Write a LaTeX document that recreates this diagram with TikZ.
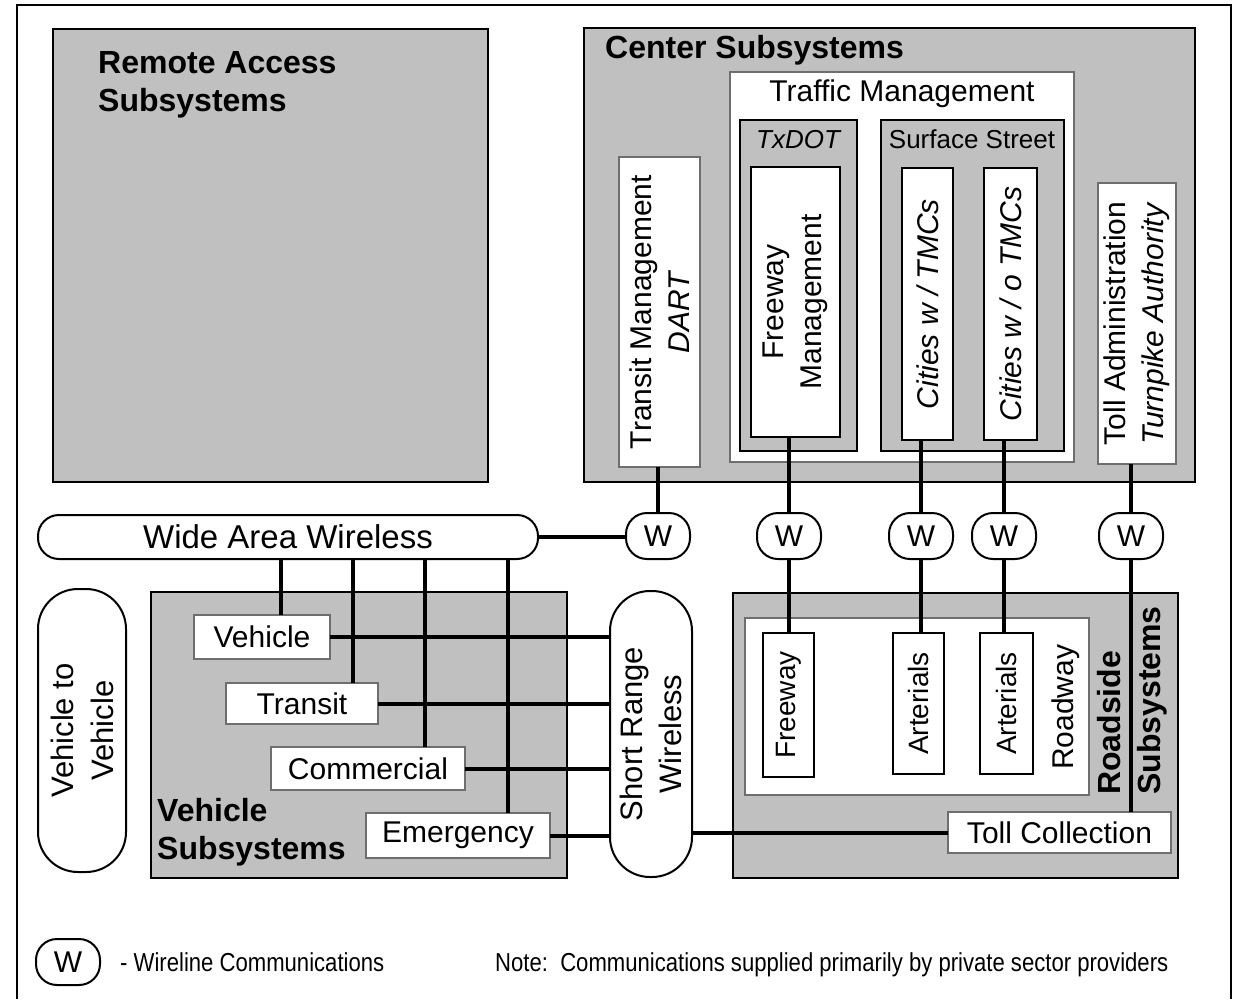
\documentclass[tikz,border=0pt]{standalone}
\usepackage{fontspec}
\setmainfont{Liberation Sans}
\newfontfamily\narrowsans{Liberation Sans}[FakeStretch=0.85]
\usetikzlibrary{fit}
\definecolor{gfill}{RGB}{192,192,192}
\definecolor{wborder}{RGB}{110,110,110}
\begin{document}
\begin{tikzpicture}[x=1pt,y=-1pt,
  gbox/.style={draw=black, fill=gfill, line width=2.5pt, inner sep=0pt, outer sep=0pt},
  wbox/.style={draw=wborder, fill=white, line width=1.3pt, inner sep=0pt, outer sep=0pt},
  bbox/.style={draw=black, fill=white, line width=2.5pt, inner sep=0pt, outer sep=0pt},
  pill/.style={draw=black, fill=white, line width=2pt, rounded corners=21pt, inner sep=0pt, outer sep=0pt},
  tallpill/.style={pill, rounded corners=40pt},
  wnode/.style={pill, minimum width=64pt, minimum height=46pt, font=\fontsize{30}{34}\selectfont},
  conn/.style={line width=4pt},
  txt/.style={inner sep=0pt, font=\fontsize{30}{38}\selectfont},
  txtsm/.style={inner sep=0pt, font=\fontsize{28}{34}\selectfont},
  title/.style={inner sep=0pt, font=\fontsize{32}{38}\selectfont\bfseries},
  sub/.style={inner sep=0pt, font=\fontsize{26}{30}\selectfont},
  legend/.style={inner sep=0pt, font=\narrowsans\fontsize{26}{30}\selectfont}
]
\useasboundingbox (0,0) rectangle (1236,999);
\fill[white] (0,0) rectangle (1236,999);
% outer frame
\draw[line width=2pt] (17,999) -- (17,5) -- (1231,5) -- (1231,999);

% Remote access
\node[gbox, fit={(53,29)(488,482)}] (ra) {};
\node[title, anchor=north west, align=left] (ratxt) at (98,51) {Remote Access\\Subsystems};

% Center subsystems
\node[gbox, fit={(584,28)(1195,482)}] (cs) {};
\node[title, anchor=base west] (cstxt) at (605,58) {Center Subsystems};
\node[wbox, fit={(730,72)(1074,462)}] (tmg) {};
\node[txt, anchor=base] (tmgtxt) at (902,101) {Traffic Management};
\node[gbox, fit={(740,120)(857,451)}] (txd) {};
\node[sub, anchor=base, font=\fontsize{26}{30}\selectfont\itshape] (txdtxt) at (798,148) {TxDOT};
\node[bbox, fit={(751,167)(840,437)}] (fm) {};
\node[txt, rotate=90, align=center] (fmtxt) at (fm.center) {Freeway\\Management};
\node[gbox, fit={(881,120)(1064,451)}] (ss) {};
\node[sub, anchor=base] (sstxt) at (972,148) {Surface Street};
\node[bbox, fit={(902,168)(953,440)}] (cw) {};
\node[txt, rotate=90, font=\fontsize{30}{38}\selectfont\itshape] (cwtxt) at (cw.center) {Cities w / TMCs};
\node[bbox, fit={(984,168)(1037,440)}] (cwo) {};
\node[txt, rotate=90, font=\fontsize{30}{38}\selectfont\itshape] (cwotxt) at (cwo.center) {Cities w / o TMCs};
\node[wbox, fit={(619,157)(700,467)}] (tm) {};
\node[txt, rotate=90, align=center] (tmtxt) at (tm.center) {Transit Management\\\textit{DART}};
\node[wbox, fit={(1098,183)(1176,464)}] (ta) {};
\node[txt, rotate=90, align=center] (tatxt) at (ta.center) {Toll Administration\\\textit{Turnpike Authority}};

% W nodes
\node[wnode] (w1) at (658,536) {W};
\node[wnode] (w2) at (789,536) {W};
\node[wnode] (w3) at (921,536) {W};
\node[wnode] (w4) at (1004,536) {W};
\node[wnode] (w5) at (1131,536) {W};

% Wide area wireless
\node[pill, fit={(38,515)(538,559)}] (waw) {};
\node[inner sep=0pt, font=\fontsize{33}{38}\selectfont] (wawtxt) at (waw.center) {Wide Area Wireless};

% Vehicle to vehicle
\node[tallpill, fit={(38,589)(126,872)}] (v2v) {};
\node[txt, rotate=90, align=center, font=\fontsize{31}{40}\selectfont] (v2vtxt) at (v2v.center) {Vehicle to\\Vehicle};

% Vehicle subsystems
\node[gbox, fit={(151,592)(567,878)}] (vs) {};
\node[title, anchor=north west, align=left] (vstxt) at (157,798) {Vehicle\\Subsystems};
\node[wbox, fit={(194,615)(330,659)}] (vb) {};
\node[txt] (vbtxt) at (vb.center) {Vehicle};
\node[wbox, fit={(226,683)(378,724)}] (trn) {};
\node[txt] (trntxt) at (trn.center) {Transit};
\node[wbox, fit={(271,747)(465,790)}] (cm) {};
\node[txt] (cmtxt) at (cm.center) {Commercial};
\node[wbox, fit={(366,813)(550,858)}] (em) {};
\node[txt] (emtxt) at (em.center) {Emergency};

% Short range wireless
\node[tallpill, fit={(610,591)(692,877)}] (srw) {};
\node[txt, rotate=90, align=center, font=\fontsize{31}{39}\selectfont] (srwtxt) at (srw.center) {Short Range\\Wireless};

% Roadside subsystems
\node[gbox, fit={(733,593)(1178,878)}] (rs) {};
\node[wbox, fit={(745,618)(1089,795)}] (rw) {};
\node[txt, rotate=90, anchor=base west] (rwtxt) at (1073,770) {Roadway};
\node[bbox, line width=2pt, fit={(763,633)(814,777)}] (fw) {};
\node[txtsm, rotate=90] (fwtxt) at (fw.center) {Freeway};
\node[bbox, line width=2pt, fit={(893,633)(944,774)}] (ar1) {};
\node[txtsm, rotate=90] (ar1txt) at (ar1.center) {Arterials};
\node[bbox, line width=2pt, fit={(980,633)(1033,774)}] (ar2) {};
\node[txtsm, rotate=90] (ar2txt) at (ar2.center) {Arterials};
\node[title, rotate=90, anchor=base west] (rstxt1) at (1120,795) {Roadside};
\node[title, rotate=90, anchor=base west] (rstxt2) at (1160,795) {Subsystems};
\node[wbox, fit={(948,812)(1171,853)}] (tc) {};
\node[txt] (tctxt) at (tc.center) {Toll Collection};

% connectors: center to W to roadside
\draw[conn] (w1 |- tm.south) -- (w1.north);
\draw[conn] (waw.east) -- (waw.east -| w1.west);
\draw[conn] (w2 |- fm.south) -- (w2.north);
\draw[conn] (w2.south) -- (w2 |- fw.north);
\draw[conn] (w3 |- cw.south) -- (w3.north);
\draw[conn] (w3.south) -- (w3 |- ar1.north);
\draw[conn] (w4 |- cwo.south) -- (w4.north);
\draw[conn] (w4.south) -- (w4 |- ar2.north);
\draw[conn] (w5 |- ta.south) -- (w5.north);
\draw[conn] (w5.south) -- (w5 |- tc.north);

% wide area wireless to vehicles
\coordinate (xa) at (281,0);
\coordinate (xb) at (353,0);
\coordinate (xc) at (425,0);
\coordinate (xd) at (508,0);
\draw[conn] (xa |- waw.south) -- (xa |- vb.north);
\draw[conn] (xb |- waw.south) -- (xb |- trn.north);
\draw[conn] (xc |- waw.south) -- (xc |- cm.north);
\draw[conn] (xd |- waw.south) -- (xd |- em.north);

% vehicles to short range wireless
\draw[conn] (vb.east) -- (vb.east -| srw.west);
\draw[conn] (trn.east) -- (trn.east -| srw.west);
\draw[conn] (cm.east) -- (cm.east -| srw.west);
\draw[conn] (em.east) -- (em.east -| srw.west);
\draw[conn] (srw.east |- tc.west) -- (tc.west);

% legend
\node[wnode] (lw) at (68,962) {W};
\node[legend, anchor=base west] (lwtxt) at (120,971) {- Wireline Communications};
\node[legend, anchor=base west] (note) at (495,971) {Note:\ \ Communications supplied primarily by private sector providers};
\end{tikzpicture}
\end{document}
